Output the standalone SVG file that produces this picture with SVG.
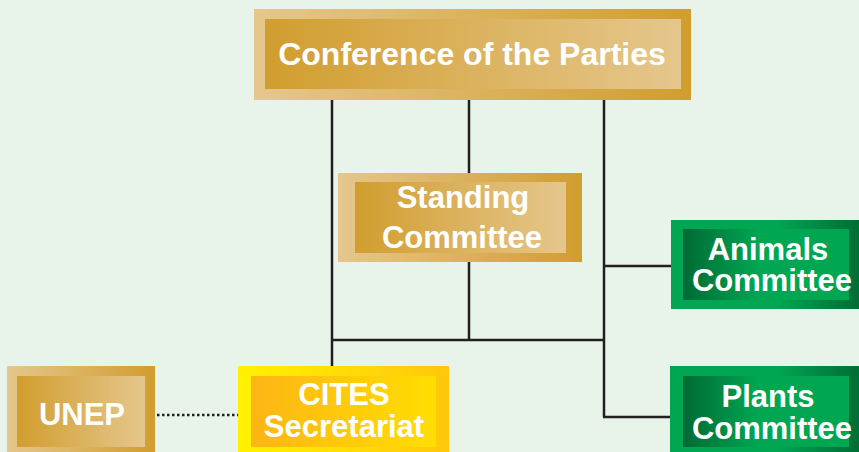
<svg xmlns="http://www.w3.org/2000/svg" width="859" height="452" viewBox="0 0 859 452">
  <defs>
    <linearGradient id="goldOuter" x1="0" y1="0" x2="1" y2="0">
      <stop offset="0" stop-color="#e5c78d"/>
      <stop offset="1" stop-color="#d19d2e"/>
    </linearGradient>
    <linearGradient id="goldInner" x1="0" y1="0" x2="1" y2="0">
      <stop offset="0" stop-color="#d19d2e"/>
      <stop offset="1" stop-color="#e5c78d"/>
    </linearGradient>
    <linearGradient id="greenOuter" x1="0" y1="0" x2="1" y2="0">
      <stop offset="0" stop-color="#00a651"/>
      <stop offset="0.55" stop-color="#00a651"/>
      <stop offset="1" stop-color="#006a34"/>
    </linearGradient>
    <linearGradient id="greenInner" x1="0" y1="0" x2="1" y2="0">
      <stop offset="0" stop-color="#006a34"/>
      <stop offset="0.45" stop-color="#00a651"/>
      <stop offset="1" stop-color="#00a651"/>
    </linearGradient>
    <linearGradient id="yellowOuter" x1="0" y1="0" x2="1" y2="0">
      <stop offset="0" stop-color="#fff200"/>
      <stop offset="1" stop-color="#ffc70b"/>
    </linearGradient>
    <linearGradient id="yellowInner" x1="0" y1="0" x2="1" y2="0">
      <stop offset="0" stop-color="#fdb515"/>
      <stop offset="1" stop-color="#ffde00"/>
    </linearGradient>
  </defs>
  <style>
    .lbl { font-family: "Liberation Sans", Arial, sans-serif; font-weight: bold; fill: #ffffff; text-anchor: middle; }
    .link { stroke: #231f20; stroke-width: 2.5; fill: none; }
    .dotted { stroke: #231f20; stroke-width: 2.5; stroke-dasharray: 2.5 2.5; fill: none; }
  </style>

  <rect width="859" height="452" fill="#e8f3ea"/>

  <!-- connectors -->
  <g id="connectors">
    <line class="link" x1="332" y1="100" x2="332" y2="366"/>
    <line class="link" x1="469" y1="100" x2="469" y2="173"/>
    <line class="link" x1="469" y1="262" x2="469" y2="340"/>
    <line class="link" x1="604" y1="100" x2="604" y2="417"/>
    <line class="link" x1="331" y1="340" x2="605" y2="340"/>
    <line class="link" x1="603" y1="266" x2="671" y2="266"/>
    <line class="link" x1="603" y1="417" x2="670" y2="417"/>
    <line class="dotted" x1="157" y1="415" x2="238" y2="415"/>
  </g>

  <g id="cop">
    <rect x="254" y="9" width="437" height="91" fill="url(#goldOuter)"/>
    <rect x="265" y="19" width="416" height="70" fill="url(#goldInner)"/>
    <text class="lbl" x="472" y="65" font-size="32">Conference of the Parties</text>
  </g>

  <g id="standing">
    <rect x="338" y="173" width="244" height="89" fill="url(#goldOuter)"/>
    <rect x="355" y="182" width="211" height="71" fill="url(#goldInner)"/>
    <text class="lbl" x="463" y="208" font-size="31">Standing</text>
    <text class="lbl" x="462" y="248" font-size="31">Committee</text>
  </g>

  <g id="animals">
    <rect x="671" y="220" width="192" height="89" fill="url(#greenOuter)"/>
    <rect x="683" y="229" width="166" height="71" fill="url(#greenInner)"/>
    <text class="lbl" x="768" y="260" font-size="31">Animals</text>
    <text class="lbl" x="772" y="291" font-size="31">Committee</text>
  </g>

  <g id="plants">
    <rect x="670" y="366" width="193" height="90" fill="url(#greenOuter)"/>
    <rect x="683" y="376" width="166" height="71" fill="url(#greenInner)"/>
    <text class="lbl" x="768" y="407" font-size="31">Plants</text>
    <text class="lbl" x="772" y="439" font-size="31">Committee</text>
  </g>

  <g id="unep">
    <rect x="7" y="366" width="148" height="90" fill="url(#goldOuter)"/>
    <rect x="17" y="376" width="128" height="71" fill="url(#goldInner)"/>
    <text class="lbl" x="82" y="425" font-size="31">UNEP</text>
  </g>

  <g id="secretariat">
    <rect x="238" y="366" width="211" height="90" fill="url(#yellowOuter)"/>
    <rect x="251" y="376" width="185" height="71" fill="url(#yellowInner)"/>
    <text class="lbl" x="344" y="405" font-size="31">CITES</text>
    <text class="lbl" x="344" y="437" font-size="31">Secretariat</text>
  </g>
</svg>
